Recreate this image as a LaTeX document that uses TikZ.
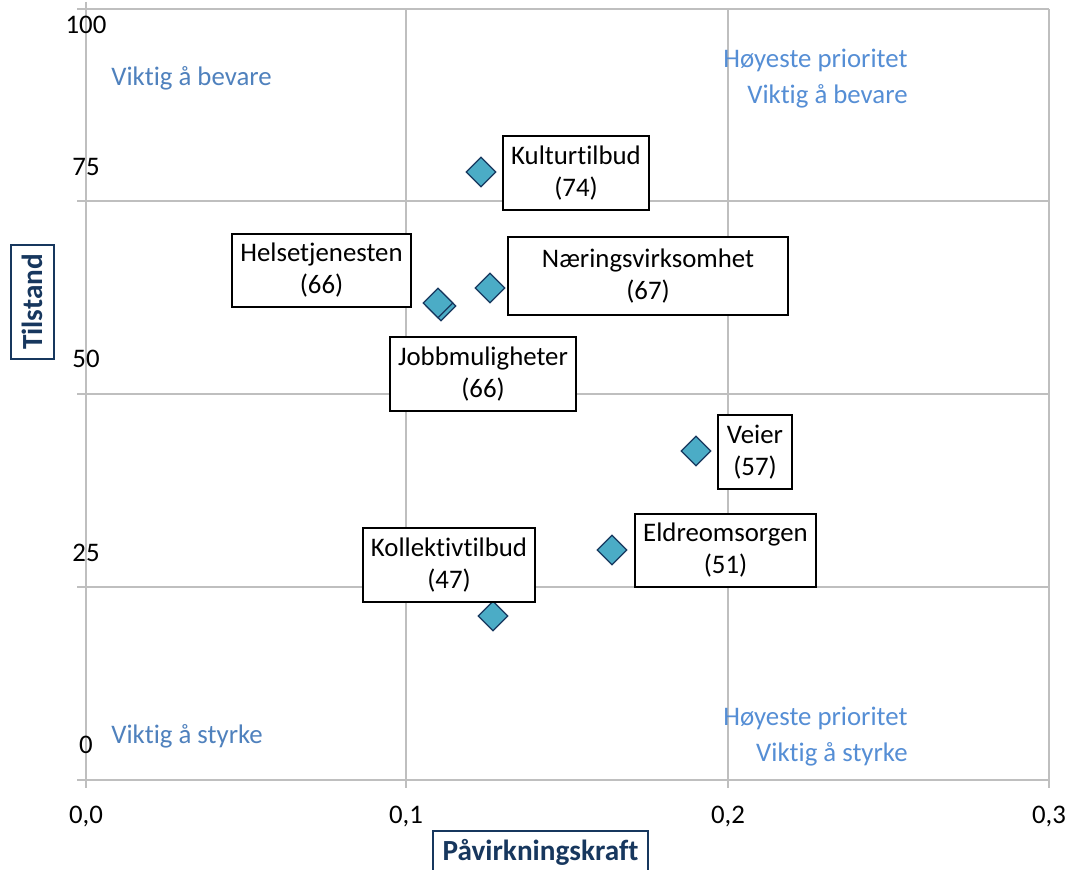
\documentclass[tikz,border=0pt]{standalone}
\usepackage{fontspec}
\setmainfont{Carlito}[Ligatures=NoCommon]
\usetikzlibrary{shapes.geometric, positioning}

\definecolor{gridgray}{RGB}{191,191,191}
\definecolor{pointfill}{RGB}{75,172,198}
\definecolor{pointline}{RGB}{23,55,94}
\definecolor{quadleft}{RGB}{79,129,189}
\definecolor{quadright}{RGB}{85,142,213}
\definecolor{titlenavy}{RGB}{23,55,94}

\newcommand{\chartfont}{\fontsize{13.4}{16}\selectfont}

\begin{document}
\begin{tikzpicture}[
    x=0.5pt, y=-0.5pt,
    grid/.style={draw=gridgray, line width=1pt},
    point/.style={diamond, draw=pointline, fill=pointfill, line width=0.6pt, minimum width=15pt, minimum height=15pt, inner sep=0pt},
    tag/.style={rectangle, draw, line width=0.8pt, fill=white, text centered, align=center, inner sep=0pt, font=\chartfont},
    tick/.style={inner sep=0pt, font=\chartfont},
    quad/.style={inner sep=0pt, font=\fontsize{13.4}{18}\selectfont},
    axistitle/.style={rectangle, draw=titlenavy, line width=0.8pt, text=titlenavy, inner sep=0pt, font=\fontsize{14.6}{17}\selectfont\bfseries}
]
% Canvas
\clip (0,0) rectangle (1071,870);
\fill[white] (0,0) rectangle (1071,870);

% Grid lines
\draw[grid] (77,9) -- (1049,9);
\draw[grid] (77,201) -- (1049,201);
\draw[grid] (77,394) -- (1049,394);
\draw[grid] (77,587) -- (1049,587);
\draw[grid] (77,780) -- (1049,780);
\draw[grid] (86,2) -- (86,788);
\draw[grid] (406,9) -- (406,788);
\draw[grid] (728,9) -- (728,788);
\draw[grid] (1049,9) -- (1049,788);

% Axis values
\node[tick] (y100) at (86,25) {100};
\node[tick] (y75) at (86,167) {75};
\node[tick] (y50) at (86,359) {50};
\node[tick] (y25) at (86,553) {25};
\node[tick] (y0) at (86,745) {0};
\node[tick] (x00) at (86,817) {0,0};
\node[tick] (x01) at (406,817) {0,1};
\node[tick] (x02) at (728,817) {0,2};
\node[tick] (x03) at (1049,817) {0,3};

% Quadrant notes
\node[quad, anchor=west, text=quadleft] (q_topleft) at (111,78) {Viktig å bevare};
\node[quad, anchor=west, text=quadleft] (q_bottomleft) at (111,736) {Viktig å styrke};
\node[quad, anchor=east, align=right, text=quadright] (q_topright) at (908,79) {Høyeste prioritet\\Viktig å bevare};
\node[quad, anchor=east, align=right, text=quadright] (q_bottomright) at (908,737) {Høyeste prioritet\\Viktig å styrke};

% Data points
\node[point] (p_kultur) at (481,172) {};
\node[point] (p_naering) at (490,288) {};
\node[point] (p_jobb) at (441,306) {};
\node[point] (p_helse) at (438,303) {};
\node[point] (p_veier) at (696,451) {};
\node[point] (p_eldre) at (612,550) {};
\node[point] (p_kollektiv) at (493,616) {};

% Data labels
\node[tag, minimum width=73pt, minimum height=37pt] (kultur) at (576,173) {Kulturtilbud\\(74)};
\node[tag, minimum width=140pt, minimum height=39pt] (naering) at (648,276) {Næringsvirksomhet\\(67)};
\node[tag, minimum width=89.5pt, minimum height=36.5pt] (helse) at (321.5,270.5) {Helsetjenesten\\(66)};
\node[tag, minimum width=93pt, minimum height=37pt] (jobb) at (483,374) {Jobbmuligheter\\(66)};
\node[tag, minimum width=37pt, minimum height=37pt] (veier) at (755,452) {Veier\\(57)};
\node[tag, minimum width=90.5pt, minimum height=36.5pt] (eldre) at (725.5,550.5) {Eldreomsorgen\\(51)};
\node[tag, minimum width=86pt, minimum height=37pt] (kollektiv) at (449,565) {Kollektivtilbud\\(47)};

% Axis titles
\node[axistitle, rotate=90, minimum width=57pt, minimum height=21.5pt] (ytitle) at (32.5,302) {Tilstand};
\node[axistitle, minimum width=107.5pt, minimum height=21.5pt] (xtitle) at (540.5,852.5) {Påvirkningskraft};
\end{tikzpicture}
\end{document}
